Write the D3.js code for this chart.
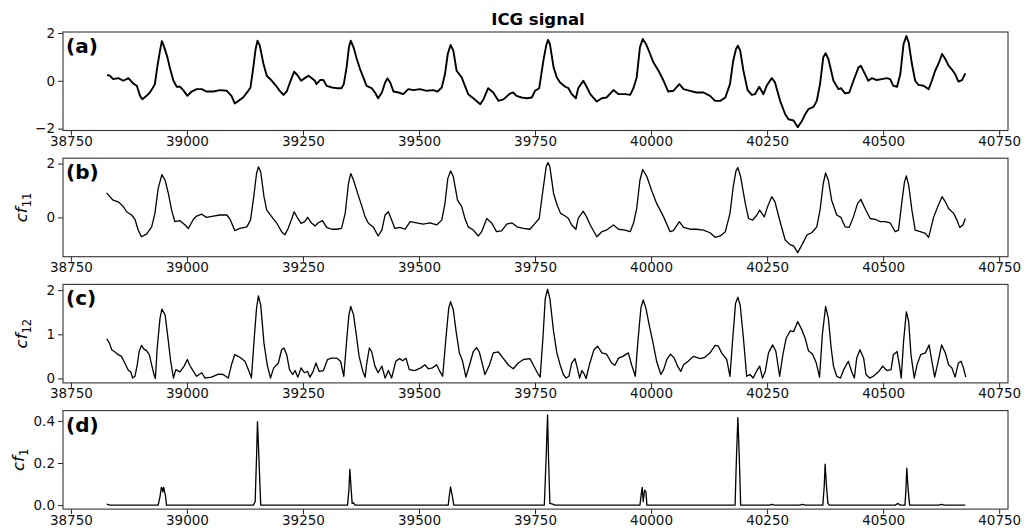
<!DOCTYPE html>
<html>
<head>
<meta charset="utf-8">
<script src="https://cdn.jsdelivr.net/npm/d3@7"></script>
<style>
  body { margin: 0; background: #fff; }
  text { font-family: "DejaVu Sans", sans-serif; }
</style>
</head>
<body>
<div id="chart"></div>
<script>
// (a) ICG signal
const icgX = [38828,38834,38841,38852,38863,38874,38884,38892,38899,38904,38913,38920,38926,38931,38936,38942,38946,38950,38958,38963,38971,38978,38985,38992,39001,39010,39021,39032,39042,39057,39071,39086,39096,39103,39111,39121,39132,39137,39143,39148,39152,39157,39165,39172,39183,39192,39200,39208,39215,39222,39231,39239,39246,39254,39262,39269,39276,39279,39287,39294,39301,39312,39323,39333,39338,39344,39349,39353,39359,39366,39373,39380,39387,39398,39405,39412,39420,39427,39432,39438,39445,39456,39466,39477,39488,39502,39517,39531,39540,39549,39556,39562,39568,39574,39581,39592,39599,39606,39617,39632,39639,39649,39660,39671,39682,39695,39703,39710,39721,39732,39743,39750,39759,39768,39774,39778,39782,39790,39797,39804,39815,39822,39829,39838,39843,39854,39860,39869,39883,39894,39904,39919,39930,39944,39955,39962,39969,39976,39982,39989,39998,40005,40016,40027,40037,40048,40061,40070,40084,40098,40113,40127,40138,40149,40160,40170,40177,40183,40187,40192,40199,40208,40217,40224,40233,40242,40249,40260,40267,40278,40289,40296,40307,40316,40325,40332,40339,40350,40357,40364,40371,40376,40382,40393,40404,40409,40418,40427,40436,40447,40452,40461,40468,40476,40486,40497,40508,40515,40522,40530,40537,40544,40550,40555,40562,40569,40576,40587,40598,40605,40612,40619,40627,40634,40641,40650,40655,40662,40670,40677];
const icgY = [0.25,0.21,0.07,0.11,0,0.11,-0.11,-0.21,-0.63,-0.77,-0.63,-0.49,-0.31,-0.14,0.56,1.26,1.66,1.47,0.98,0.56,0,-0.25,-0.25,-0.39,-0.63,-0.45,-0.35,-0.35,-0.45,-0.45,-0.39,-0.42,-0.63,-0.95,-0.84,-0.70,-0.42,-0.28,0.56,1.33,1.68,1.47,0.70,0.21,0,-0.21,-0.42,-0.59,-0.45,-0.07,0.38,0.21,0,0.11,0.21,0.11,0,-0.14,0.03,0.03,-0.21,-0.28,-0.31,-0.31,-0.14,0.56,1.40,1.68,1.40,0.91,0.49,0.14,-0.21,-0.31,-0.49,-0.73,-0.49,-0.07,0.10,-0.07,-0.45,-0.49,-0.56,-0.35,-0.39,-0.35,-0.42,-0.39,-0.45,-0.28,0.28,1.12,1.50,1.26,0.42,0.14,-0.21,-0.56,-0.73,-0.98,-0.77,-0.31,-0.49,-0.84,-0.78,-0.55,-0.49,-0.63,-0.70,-0.73,-0.70,-0.42,-0.31,0.84,1.47,1.71,1.54,0.56,0.14,-0.07,-0.25,-0.31,-0.56,-0.73,-0.31,0,-0.21,-0.56,-0.87,-0.73,-0.70,-0.39,-0.56,-0.56,-0.59,-0.31,0.14,1.40,1.75,1.54,1.12,0.77,0.42,0,-0.45,-0.42,-0.14,-0.35,-0.42,-0.49,-0.49,-0.63,-0.84,-0.84,-0.70,-0.14,0.84,1.33,1.47,1.26,0.42,-0.39,-0.59,-0.56,-0.25,-0.56,-0.21,0.11,-0.07,-0.84,-1.40,-1.61,-1.66,-1.94,-1.68,-1.40,-1.19,-1.09,-0.84,-0.14,0.98,1.15,0.91,0,-0.35,-0.31,-0.53,-0.49,0,0.56,0.63,0.28,0,0.11,0.03,0.07,0.11,0.07,-0.21,-0.25,0.28,1.54,1.87,1.61,0.70,0,-0.17,-0.21,-0.35,0,0.42,0.70,1.12,0.91,0.63,0.42,0.28,-0.03,0.03,0.31];

// (b) cf11
const cf11X = [38827,38834,38841,38852,38863,38870,38881,38888,38895,38902,38913,38924,38931,38938,38946,38953,38960,38967,38974,38985,38996,39003,39014,39021,39032,39042,39057,39071,39086,39093,39103,39114,39129,39137,39144,39150,39154,39159,39166,39172,39183,39193,39204,39211,39218,39226,39231,39239,39246,39254,39260,39269,39276,39283,39292,39301,39312,39323,39333,39341,39348,39353,39359,39369,39376,39384,39391,39402,39412,39420,39427,39434,39441,39448,39459,39470,39481,39495,39509,39524,39538,39549,39556,39562,39568,39574,39583,39592,39599,39606,39617,39628,39635,39646,39657,39667,39678,39689,39700,39711,39725,39739,39750,39759,39767,39774,39778,39782,39790,39797,39805,39815,39822,39829,39838,39843,39854,39861,39869,39883,39894,39904,39919,39930,39944,39955,39962,39969,39976,39982,39991,40001,40012,40027,40041,40048,40061,40070,40084,40098,40113,40127,40138,40149,40160,40170,40177,40183,40187,40193,40203,40210,40219,40228,40234,40244,40251,40260,40267,40278,40289,40300,40307,40316,40325,40336,40346,40357,40364,40371,40376,40382,40389,40400,40409,40418,40427,40436,40445,40452,40461,40472,40483,40494,40504,40515,40526,40533,40540,40546,40550,40555,40562,40569,40580,40591,40598,40609,40619,40627,40634,40641,40652,40659,40665,40672,40677];
const cf11Y = [0.91,0.77,0.64,0.58,0.40,0.21,0.09,-0.07,-0.47,-0.72,-0.62,-0.35,0.15,1.07,1.59,1.38,0.89,0.27,-0.16,-0.12,-0.28,-0.41,-0.07,0.05,0.12,0,0.05,0.09,0.09,-0.07,-0.49,-0.41,-0.35,-0.10,0.77,1.63,1.88,1.69,0.77,0.27,0.02,-0.20,-0.53,-0.65,-0.41,-0.04,0.21,-0.04,-0.22,-0.16,0,-0.22,-0.32,-0.20,-0.12,-0.37,-0.44,-0.44,-0.41,0.15,1.26,1.63,1.38,0.83,0.46,0.02,-0.22,-0.37,-0.69,-0.47,0.09,0.21,-0.10,-0.41,-0.37,-0.44,-0.16,-0.20,-0.25,-0.20,-0.28,-0.10,0.52,1.44,1.73,1.51,0.64,0.40,-0.04,-0.35,-0.47,-0.69,-0.53,-0.04,-0.22,-0.53,-0.50,-0.25,-0.20,-0.35,-0.41,-0.44,-0.22,-0.04,1.01,1.88,2.04,1.88,0.89,0.49,0.15,0.05,-0.04,-0.28,-0.44,-0.04,0.23,0.02,-0.28,-0.72,-0.53,-0.47,-0.28,-0.44,-0.47,-0.53,-0.22,0.33,1.38,1.78,1.51,1.01,0.52,0.02,-0.53,-0.49,-0.16,-0.37,-0.44,-0.44,-0.47,-0.57,-0.74,-0.69,-0.53,0.15,1.14,1.73,1.85,1.51,0.52,-0.04,-0.10,0.09,0.27,0.02,0.40,0.77,0.58,-0.16,-0.84,-1.02,-1.06,-1.31,-1.02,-0.65,-0.57,-0.35,0.27,1.26,1.65,1.38,0.64,0.09,0,-0.35,-0.37,0.02,0.52,0.67,0.33,-0.04,-0.07,-0.16,-0.16,-0.20,-0.53,-0.47,0.52,1.32,1.54,1.20,0.27,-0.47,-0.53,-0.59,-0.74,0.02,0.46,0.77,0.58,0.33,0.15,-0.10,-0.37,-0.28,-0.04];

// (c) cf12
const cf12X = [38827,38833,38838,38845,38852,38859,38866,38874,38879,38883,38888,38893,38897,38902,38907,38913,38919,38924,38929,38932,38936,38942,38946,38953,38960,38965,38971,38976,38985,38994,39001,39006,39014,39021,39032,39039,39053,39068,39078,39089,39096,39103,39114,39125,39134,39139,39145,39150,39154,39159,39166,39173,39180,39187,39197,39204,39209,39215,39221,39228,39233,39239,39246,39253,39260,39265,39272,39278,39285,39294,39303,39312,39323,39331,39338,39344,39349,39353,39359,39364,39371,39379,39384,39387,39393,39398,39405,39412,39420,39427,39434,39441,39450,39458,39465,39472,39479,39491,39504,39513,39520,39529,39538,39545,39551,39558,39564,39568,39574,39580,39587,39594,39601,39609,39617,39624,39630,39637,39642,39652,39660,39671,39682,39693,39703,39714,39725,39739,39746,39755,39761,39767,39772,39777,39782,39790,39797,39804,39811,39817,39823,39829,39836,39841,39846,39851,39856,39860,39867,39877,39885,39894,39904,39915,39922,39930,39939,39951,39958,39966,39971,39978,39983,39989,39996,40004,40012,40021,40027,40034,40042,40050,40057,40064,40070,40080,40091,40106,40116,40127,40138,40145,40152,40163,40170,40176,40182,40187,40192,40199,40206,40213,40220,40228,40234,40240,40246,40253,40262,40269,40277,40284,40291,40300,40307,40316,40325,40332,40339,40348,40356,40363,40369,40376,40382,40388,40393,40400,40408,40415,40425,40433,40438,40443,40450,40458,40463,40471,40479,40490,40499,40508,40517,40522,40530,40535,40539,40544,40550,40555,40560,40567,40573,40581,40591,40599,40605,40611,40617,40626,40634,40641,40648,40655,40662,40668,40673,40678];
const cf12Y = [0.90,0.80,0.65,0.60,0.54,0.50,0.35,0.18,0.15,0.01,0.05,0.31,0.61,0.75,0.67,0.63,0.54,0.31,0.09,0,0.69,1.36,1.57,1.44,0.84,0.39,0.01,0.20,0.15,0.28,0.43,0.30,0.16,0.05,0.13,0.01,0.03,0.10,0.09,0.01,0.31,0.54,0.48,0.39,0.16,0.01,0.91,1.59,1.87,1.66,0.80,0.31,0.01,0.24,0.35,0.65,0.69,0.54,0.20,0.09,0.18,0.03,0.24,0.13,0.16,0.03,0.16,0.35,0.16,0.18,0.43,0.46,0.46,0.39,0.05,0.84,1.44,1.63,1.44,1.06,0.50,0.16,0.03,0.31,0.69,0.61,0.28,0.13,0.28,0.01,0.18,0.01,0.39,0.45,0.40,0.46,0.20,0.18,0.24,0.31,0.22,0.24,0.31,0.16,0.05,0.91,1.59,1.74,1.55,1.06,0.58,0.39,0.03,0.31,0.61,0.70,0.60,0.31,0.09,0.31,0.58,0.60,0.45,0.30,0.22,0.35,0.43,0.45,0.31,0.13,0.03,0.91,1.81,2.02,1.81,1.06,0.58,0.31,0.09,0.01,0.05,0.35,0.45,0.24,0.01,0.18,0.10,0,0.31,0.65,0.73,0.58,0.55,0.35,0.30,0.46,0.50,0.58,0.31,0.05,0.76,1.59,1.78,1.59,1.21,0.82,0.39,0.09,0.20,0.43,0.55,0.46,0.28,0.16,0.31,0.39,0.50,0.45,0.48,0.58,0.75,0.73,0.58,0.43,0.05,0.91,1.70,1.84,1.66,0.91,0.05,0.09,0.01,0.18,0.28,0.01,0.16,0.58,0.76,0.61,0.05,0.54,0.91,1.08,1.06,1.29,1.10,0.91,0.63,0.55,0.35,0.03,0.99,1.63,1.36,0.69,0.28,0.05,0.01,0.20,0.39,0.13,0.01,0.46,0.65,0.46,0.09,0.01,0.05,0.15,0.28,0.18,0.20,0.54,0.61,0.31,0.01,0.84,1.51,1.29,0.54,0.01,0.31,0.54,0.58,0.76,0.39,0.03,0.31,0.76,0.58,0.31,0.24,0.03,0.35,0.39,0.24,0.03];

// (d) cf1
const cf1X = [38827,38834,38938,38942,38945,38947,38948,38950,38954,38956,39143,39147,39150,39152,39155,39159,39346,39349,39351,39354,39356,39359,39362,39563,39565,39568,39572,39575,39770,39774,39777,39779,39782,39788,39793,39976,39979,39981,39983,39986,39989,39991,40181,40184,40187,40190,40193,40255,40260,40265,40320,40326,40332,40370,40373,40375,40378,40381,40384,40526,40532,40537,40547,40549,40551,40554,40557,40620,40626,40632,40677];
const cf1Y = [0.005,0,0,0.04,0.084,0.079,0.063,0.084,0.04,0,0,0.016,0.23,0.397,0.23,0,0,0.071,0.17,0.071,0.008,0.011,0,0,0.04,0.087,0.04,0,0,0.23,0.429,0.23,0.008,0.005,0,0,0.056,0.084,0.016,0.071,0.063,0,0,0.23,0.416,0.23,0,0,0.003,0,0,0.003,0,0,0.087,0.195,0.087,0.008,0,0,0.008,0,0,0.071,0.175,0.071,0,0,0.003,0,0];

const xTicks = [38750, 39000, 39250, 39500, 39750, 40000, 40250, 40500, 40750];
const xDomain = [38733, 40769];

const panelTags = ["(a)", "(b)", "(c)", "(d)"];
const yLabels = [null, "11", "12", "1"];   // subscripts of cf
const yDomains = [[-2.08, 2.04], [-1.46, 2.2], [-0.1, 2.13], [-0.019, 0.449]];
const yTicks = [[-2, 0, 2], [0, 2], [0, 1, 2], [0, 0.2, 0.4]];

const W = 1030, H = 530;
const left = 63, right = 1008;

const svg = d3.select("#chart").append("svg")
    .attr("width", W)
    .attr("height", H);

svg.append("text")
    .attr("x", 538)
    .attr("y", 25)
    .attr("text-anchor", "middle")
    .attr("font-size", 16.5)
    .attr("font-weight", "bold")
    .text("ICG signal");

const x = d3.scaleLinear().domain(xDomain).range([left, right]);

const series = [[icgX, icgY], [cf11X, cf11Y], [cf12X, cf12Y], [cf1X, cf1Y]];

series.forEach(([xs, ys], i) => {
  const top = 32 + i * 126.2;
  const h = 98.5;
  const y = d3.scaleLinear().domain(yDomains[i]).range([top + h, top]);
  const g = svg.append("g");

  // x axis
  const xa = g.append("g")
      .attr("transform", "translate(0," + (top + h) + ")")
      .call(d3.axisBottom(x).tickValues(xTicks).tickFormat(d3.format("d")).tickSize(5).tickPadding(1));
  // y axis
  const fmt = i === 3 ? d3.format(".1f") : d3.format("d");
  const ya = g.append("g")
      .attr("transform", "translate(" + left + ",0)")
      .call(d3.axisLeft(y).tickValues(yTicks[i]).tickFormat(fmt).tickSize(5).tickPadding(3));

  [xa, ya].forEach(a => {
    a.select(".domain").remove();
    a.selectAll("line").attr("stroke", "#222").attr("stroke-width", 1);
    a.selectAll("text").attr("font-size", 13.5).attr("fill", "#111")
        .attr("font-family", "DejaVu Sans, sans-serif");
  });

  g.append("path")
      .datum(xs.map((v, k) => [v, ys[k]]))
      .attr("fill", "none")
      .attr("stroke", "#000")
      .attr("stroke-width", i === 0 ? 1.9 : 1.3)
      .attr("stroke-linejoin", "round")
      .attr("d", d3.line().x(d => x(d[0])).y(d => y(d[1])));

  g.append("rect")
      .attr("x", left).attr("y", top)
      .attr("width", right - left).attr("height", h)
      .attr("fill", "none")
      .attr("stroke", "#333")
      .attr("stroke-width", 1.1);

  g.append("text")
      .attr("x", left + 3)
      .attr("y", top + 21)
      .attr("font-size", 20)
      .attr("font-weight", "bold")
      .text(panelTags[i]);

  if (yLabels[i]) {
    const lx = i === 3 ? 24 : 27;
    const t = g.append("text")
        .attr("transform", "translate(" + lx + "," + (top + h / 2) + ") rotate(-90)")
        .attr("text-anchor", "middle")
        .attr("font-size", 16.5);
    t.append("tspan").attr("font-style", "italic").text("cf");
    t.append("tspan").attr("font-size", 11.5).attr("dy", 3.5).text(yLabels[i]);
  }
});
</script>
</body>
</html>
